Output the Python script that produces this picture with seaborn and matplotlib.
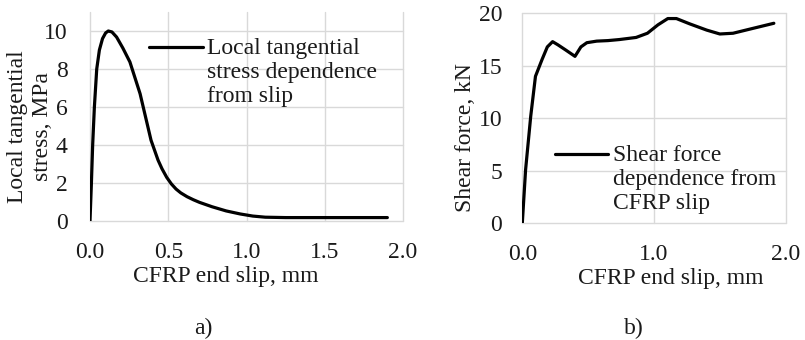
import numpy as np
import pandas as pd
import matplotlib
matplotlib.use("Agg")
import matplotlib.pyplot as plt
import seaborn as sns

# ---- data ----
slip_a = [0.0, 0.009, 0.017, 0.028, 0.043, 0.06, 0.08, 0.10, 0.117, 0.14, 0.17, 0.21,
          0.255, 0.32, 0.39, 0.435, 0.46, 0.49, 0.52, 0.55, 0.58, 0.62, 0.66, 0.70,
          0.78, 0.87, 0.96, 1.04, 1.12, 1.25, 1.5, 1.9]
stress_a = [0.0, 2.0, 4.0, 6.0, 8.0, 9.0, 9.6, 9.9, 10.0, 9.95, 9.68, 9.1,
            8.37, 6.7, 4.25, 3.2, 2.75, 2.3, 1.95, 1.68, 1.48, 1.28, 1.12, 0.98,
            0.75, 0.53, 0.37, 0.26, 0.2, 0.18, 0.18, 0.18]

slip_b = [0.0, 0.025, 0.064, 0.10, 0.15, 0.19, 0.23, 0.27, 0.33, 0.40, 0.445, 0.49,
          0.565, 0.65, 0.737, 0.864, 0.95, 1.03, 1.105, 1.17, 1.27, 1.40, 1.50, 1.60,
          1.73, 1.91]
force_b = [0.0, 5.1, 10.2, 14.0, 15.6, 16.8, 17.3, 17.0, 16.5, 15.9, 16.8, 17.2,
           17.35, 17.4, 17.5, 17.7, 18.1, 18.9, 19.5, 19.5, 19.0, 18.4, 18.03, 18.1,
           18.5, 19.05]

label_a = "Local tangential\nstress dependence\nfrom slip"
label_b = "Shear force\ndependence from\nCFRP slip"
xticks_a = [0.0, 0.5, 1.0, 1.5, 2.0]
yticks_a = [0, 2, 4, 6, 8, 10]
xticks_b = [0.0, 1.0, 2.0]
yticks_b = [0, 5, 10, 15, 20]

sns.set_theme(style="white")
plt.rcParams['font.family'] = ['Liberation Serif', 'DejaVu Serif']
FS = 17
TXT = "#1a1a1a"
GRID = "#d9d9d9"

fig = plt.figure(figsize=(8.05, 3.4), dpi=100)
W, H = 805, 340
axA = fig.add_axes([90 / W, (H - 221) / H, 313 / W, 209 / H])
axB = fig.add_axes([522.3 / W, (H - 223.3) / H, 263.4 / W, 210 / H])

dfa = pd.DataFrame({"x": slip_a, "y": stress_a})
dfb = pd.DataFrame({"x": slip_b, "y": force_b})
sns.lineplot(data=dfa, x="x", y="y", ax=axA, color="black", lw=2.3, label=label_a)
sns.lineplot(data=dfb, x="x", y="y", ax=axB, color="black", lw=2.3, label=label_b)

def style(ax, xt, yt, ylim, ypad):
    ax.set_xlim(0, 2.0)
    ax.set_ylim(*ylim)
    ax.set_xticks(xt)
    ax.set_xticklabels([f"{v:.1f}" for v in xt])
    ax.set_yticks(yt)
    ax.set_yticklabels([str(v) for v in yt])
    for s in ax.spines.values():
        s.set_visible(False)
    ax.grid(True, color=GRID, lw=1.0)
    ax.set_axisbelow(True)
    ax.tick_params(length=0, labelsize=FS, colors=TXT)
    ax.tick_params(axis="x", pad=15)
    ax.tick_params(axis="y", pad=ypad)
    ax.set_xlabel("CFRP end slip, mm", fontsize=FS, color=TXT)

style(axA, xticks_a, yticks_a, (0, 11), 16)
style(axB, xticks_b, yticks_b, (0, 20), 14.5)
for gl in axA.get_xgridlines() + axA.get_ygridlines() + axB.get_xgridlines() + axB.get_ygridlines():
    gl.set_clip_on(False)

axA.xaxis.set_label_coords(0.435, -0.215)
axB.xaxis.set_label_coords(0.565, -0.215)
axA.xaxis.label.set_va("top")
axB.xaxis.label.set_va("top")

axA.set_ylabel("Local tangential\nstress, MPa", fontsize=FS, color=TXT, linespacing=1.25)
axA.yaxis.set_label_coords(-0.118, 0.452)
axB.set_ylabel("Shear force, kN", fontsize=FS, color=TXT)
axB.yaxis.set_label_coords(-0.176, 0.41)

for ax, anchor in ((axA, (0.19, 0.876)), (axB, (0.124, 0.373))):
    leg = ax.legend(loc="upper left", bbox_to_anchor=anchor, frameon=False,
                    fontsize=FS, handlelength=2.25, handletextpad=0.2,
                    handleheight=1.0, borderpad=0, borderaxespad=0)
    for t in leg.get_texts():
        t.set_color(TXT)
        t.set_linespacing(1.2)
    # align the handle with the first text line
    for col in leg._legend_handle_box.get_children():
        for hp in col.get_children():
            hp.align = "top"

fig.text(203 / W, 1 - 328 / H, "a)", ha="center", va="center", fontsize=FS, color=TXT)
fig.text(634 / W, 1 - 328 / H, "b)", ha="center", va="center", fontsize=FS, color=TXT)

fig.savefig("out.png", dpi=100)
